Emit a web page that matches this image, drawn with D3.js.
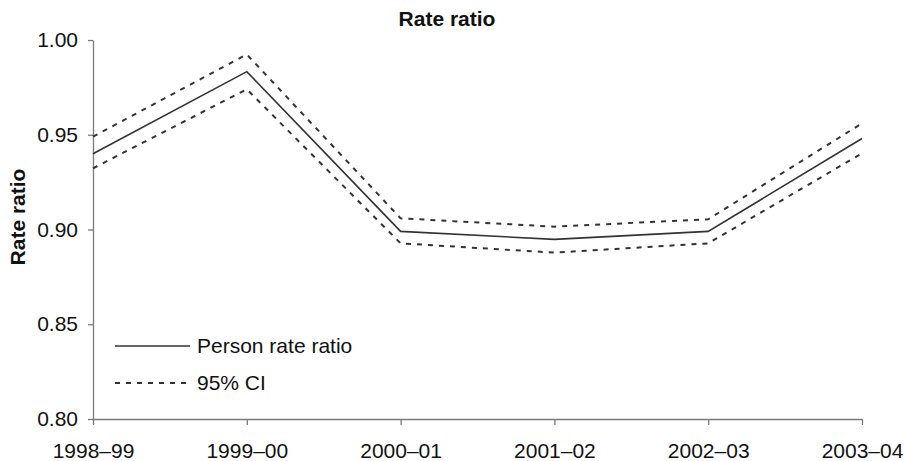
<!DOCTYPE html>
<html>
<head>
<meta charset="utf-8">
<script src="https://cdn.jsdelivr.net/npm/d3@7"></script>
<style>
  html, body { margin: 0; padding: 0; background: #fff; }
  svg { display: block; font-family: "Liberation Sans", Arial, sans-serif; }
</style>
</head>
<body>
<svg id="chart" width="905" height="461"></svg>
<script>
const categories = ["1998–99", "1999–00", "2000–01", "2001–02", "2002–03", "2003–04"];
const personRate = [0.940, 0.9833, 0.899, 0.8948, 0.899, 0.948];
const upperCI = [0.949, 0.9924, 0.9059, 0.9015, 0.9054, 0.956];
const lowerCI = [0.9323, 0.974, 0.8927, 0.8878, 0.8927, 0.9402];
const yTicks = [0.80, 0.85, 0.90, 0.95, 1.00];
const titleText = "Rate ratio";
const yLabel = "Rate ratio";
const legendLabels = ["Person rate ratio", "95% CI"];

(function () {
const svg = d3.select("#chart");
const mLeft = 93, mRight = 862, mTop = 40, mBottom = 419;
const fs = 21;

const x = d3.scalePoint().domain(categories).range([mLeft, mRight]);
const y = d3.scaleLinear().domain([0.8, 1.0]).range([mBottom, mTop]);

const axisColor = "#7a7a7a";
const lineColor = "#333";

// Y axis
const yAxis = svg.append("g")
  .attr("transform", `translate(${mLeft},0)`)
  .call(d3.axisLeft(y).tickValues(yTicks).tickFormat(d3.format(".2f")).tickSize(5).tickPadding(10).tickSizeOuter(0));
yAxis.select(".domain").attr("stroke", axisColor).attr("stroke-width", 1.3);
yAxis.selectAll(".tick line").attr("stroke", axisColor).attr("stroke-width", 1.3);
yAxis.selectAll(".tick text").attr("font-size", fs).attr("fill", "#111").attr("font-family", "Liberation Sans, Arial, sans-serif");

// X axis
const xAxis = svg.append("g")
  .attr("transform", `translate(0,${mBottom})`)
  .call(d3.axisBottom(x).tickSize(6).tickPadding(18).tickSizeOuter(0));
xAxis.select(".domain").attr("stroke", axisColor).attr("stroke-width", 1.3);
xAxis.selectAll(".tick line").attr("stroke", axisColor).attr("stroke-width", 1.3);
xAxis.selectAll(".tick text").attr("font-size", fs).attr("fill", "#111").attr("font-family", "Liberation Sans, Arial, sans-serif");

// Lines
const line = d3.line().x((d, i) => x(categories[i])).y(d => y(d));
svg.append("path").datum(upperCI).attr("d", line)
  .attr("fill", "none").attr("stroke", lineColor).attr("stroke-width", 2).attr("stroke-dasharray", "5,6");
svg.append("path").datum(lowerCI).attr("d", line)
  .attr("fill", "none").attr("stroke", lineColor).attr("stroke-width", 2).attr("stroke-dasharray", "5,6");
svg.append("path").datum(personRate).attr("d", line)
  .attr("fill", "none").attr("stroke", lineColor).attr("stroke-width", 1.6);

// Title
svg.append("text").attr("x", 447).attr("y", 26).attr("text-anchor", "middle")
  .attr("font-size", fs).attr("font-weight", "bold").attr("fill", "#111").text(titleText);

// Y label
svg.append("text").attr("transform", "translate(25,217) rotate(-90)").attr("text-anchor", "middle")
  .attr("font-size", fs).attr("font-weight", "bold").attr("fill", "#111").text(yLabel);

// Legend
const legend = svg.append("g");
legend.append("line").attr("x1", 115).attr("x2", 190).attr("y1", 346).attr("y2", 346)
  .attr("stroke", lineColor).attr("stroke-width", 1.6);
legend.append("text").attr("x", 197).attr("y", 353).attr("font-size", fs).attr("fill", "#111").text(legendLabels[0]);
legend.append("line").attr("x1", 115).attr("x2", 190).attr("y1", 383).attr("y2", 383)
  .attr("stroke", lineColor).attr("stroke-width", 2).attr("stroke-dasharray", "5,6");
legend.append("text").attr("x", 197).attr("y", 390).attr("font-size", fs).attr("fill", "#111").text(legendLabels[1]);
})();
</script>
</body>
</html>
